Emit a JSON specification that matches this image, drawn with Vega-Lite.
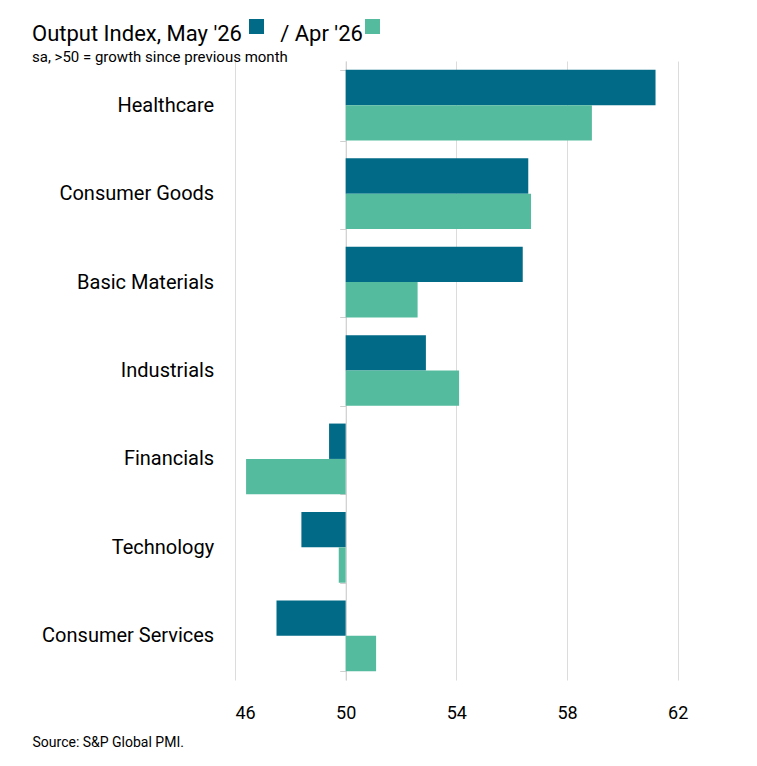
{
  "$schema": "https://vega.github.io/schema/vega-lite/v6.json",
  "autosize": {"type": "none"},
  "width": 498,
  "height": 619,
  "padding": {"left": 235, "top": 61, "right": 24, "bottom": 86},
  "background": "white",
  "title": {
    "text": "Output Index, May '26\u00a0\u00a0\u00a0\u00a0\u00a0\u00a0\u00a0/ Apr '26",
    "subtitle": "sa, >50 = growth since previous month",
    "anchor": "start",
    "frame": "group",
    "dx": -203,
    "dy": 50,
    "offset": 3,
    "font": "Roboto",
    "fontSize": 22,
    "fontWeight": "normal",
    "color": "#000000",
    "subtitleFont": "Roboto",
    "subtitleFontSize": 15,
    "subtitleColor": "#000000",
    "subtitlePadding": 4
  },
  "config": {"view": {"stroke": null}},
  "data": {
    "values": [
      {"sector": "Healthcare", "period": "May '26", "value": 61.2},
      {"sector": "Healthcare", "period": "Apr '26", "value": 58.9},
      {"sector": "Consumer Goods", "period": "May '26", "value": 56.6},
      {"sector": "Consumer Goods", "period": "Apr '26", "value": 56.7},
      {"sector": "Basic Materials", "period": "May '26", "value": 56.4},
      {"sector": "Basic Materials", "period": "Apr '26", "value": 52.6},
      {"sector": "Industrials", "period": "May '26", "value": 52.9},
      {"sector": "Industrials", "period": "Apr '26", "value": 54.1},
      {"sector": "Financials", "period": "May '26", "value": 49.4},
      {"sector": "Financials", "period": "Apr '26", "value": 46.4},
      {"sector": "Technology", "period": "May '26", "value": 48.4},
      {"sector": "Technology", "period": "Apr '26", "value": 49.75},
      {"sector": "Consumer Services", "period": "May '26", "value": 47.5},
      {"sector": "Consumer Services", "period": "Apr '26", "value": 51.1}
    ]
  },
  "mark": {"type": "bar"},
  "encoding": {
    "y": {
      "field": "sector",
      "type": "nominal",
      "sort": null,
      "scale": {"paddingInner": 0.2, "paddingOuter": 0.1},
      "axis": {
        "title": null,
        "offset": -110.7,
        "domainColor": "#cfcfcf",
        "tickColor": "#cfcfcf",
        "tickSize": 6,
        "tickBand": "extent",
        "labelPadding": 126,
        "labelFont": "Roboto",
        "labelFontSize": 20,
        "labelColor": "#000000"
      }
    },
    "yOffset": {"field": "period", "type": "nominal", "sort": ["May '26", "Apr '26"]},
    "x": {
      "field": "value",
      "type": "quantitative",
      "scale": {"domain": [46, 64], "nice": false, "zero": false},
      "axis": {
        "values": [46, 50, 54, 58, 62],
        "grid": true,
        "gridColor": "#dcdcdc",
        "domain": false,
        "ticks": false,
        "labelFont": "Roboto",
        "labelFontSize": 18,
        "labelColor": "#000000",
        "labelPadding": 24,
        "title": "Source: S&P Global PMI.",
        "titleFont": "Roboto",
        "titleFontSize": 14,
        "titleFontWeight": "normal",
        "titleColor": "#000000",
        "titleAnchor": "start",
        "titleAlign": "left",
        "titleX": -203,
        "titleY": 66,
        "titleBaseline": "alphabetic"
      }
    },
    "x2": {"datum": 50},
    "color": {
      "field": "period",
      "type": "nominal",
      "sort": ["May '26", "Apr '26"],
      "scale": {"domain": ["May '26", "Apr '26"], "range": ["#006a87", "#55bb9e"]},
      "legend": {
        "orient": "none",
        "direction": "horizontal",
        "legendX": 14,
        "legendY": -42,
        "title": null,
        "padding": 0,
        "symbolType": "square",
        "symbolSize": 225,
        "symbolStrokeWidth": 0,
        "labelExpr": "''",
        "labelFontSize": 1,
        "labelOffset": 0,
        "columnPadding": 101,
        "encode": {
          "symbols": {
            "update": {
              "fill": [
                {"test": "datum.value === \"Apr '26\"", "value": "#93d5c1"},
                {"value": "#006a87"}
              ]
            }
          }
        }
      }
    }
  }
}
